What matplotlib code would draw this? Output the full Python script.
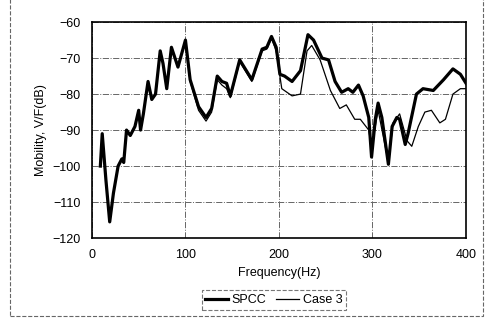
import matplotlib.pyplot as plt
from matplotlib.patches import Rectangle

plt.rcParams['font.family'] = ['Liberation Sans', 'DejaVu Sans']

# SPCC (thick line)
f_spcc = [9, 11, 15, 19, 23, 28, 32, 34, 37, 41, 46, 50, 52, 55, 60, 64, 68, 73, 76, 80,
          85, 92, 100, 105, 114, 122, 128, 134, 139, 144, 148, 158, 171, 182, 187, 192,
          197, 201, 206, 214, 223, 231, 237, 246, 253, 260, 267, 274, 279, 285, 290,
          296, 299, 303, 306, 310, 317, 321, 326, 329, 335, 338, 347, 354, 365, 376,
          386, 394, 400]
db_spcc = [-100, -91, -104, -115.5, -107.5, -100, -98, -99, -90, -91.5, -89, -84.5, -90, -85.5,
           -76.5, -81.5, -80, -68, -71.5, -78.5, -67, -72.5, -65, -76, -83.5, -86.5, -84,
           -75, -76.5, -77, -80.5, -70.5, -76, -67.5, -67, -64, -67, -74.5, -75, -76.5,
           -73.5, -63.5, -65, -70, -70.5, -76.5, -79.5, -78.5, -79.5, -77.5, -80.5, -86.5,
           -97.5, -87, -82.5, -86.5, -99.5, -89, -86.5, -87, -94, -91, -80, -78.5, -79,
           -76, -73, -74.5, -77]

# Case 3 (thin line)
f_case3 = [9, 11, 15, 19, 23, 28, 32, 34, 37, 41, 46, 50, 52, 55, 60, 64, 68, 73, 76, 80,
           85, 92, 100, 105, 114, 122, 128, 134, 139, 144, 148, 158, 171, 182, 187, 192,
           197, 203, 214, 223, 230, 235, 244, 255, 265, 272, 281, 287, 296, 299, 306,
           317, 322, 329, 337, 342, 349, 356, 363, 372, 378, 386, 394, 400]
db_case3 = [-100, -91, -104, -115.5, -107.5, -100, -98, -99, -90, -91.5, -89, -84.5, -90, -85.5,
            -76.5, -81.5, -80, -68, -71.5, -78.5, -67, -72.5, -65, -76.5, -84.5, -87.5, -85,
            -76, -77.5, -78.5, -81, -71, -76.5, -68, -67.5, -64.5, -68, -78.5, -80.5, -80,
            -68, -66.5, -70.5, -79, -84, -83, -87, -87, -90, -95, -84.5, -99, -88, -85.5,
            -93, -94.5, -89, -85, -84.5, -88, -87, -80, -78.5, -78.5]

fig = plt.figure(figsize=(4.89, 3.2), dpi=100)
ax = fig.add_axes([0.188, 0.256, 0.765, 0.675])

ax.plot(f_case3, db_case3, color='black', linewidth=0.9, label='Case 3', zorder=3)
ax.plot(f_spcc, db_spcc, color='black', linewidth=2.3, label='SPCC', zorder=4)

ax.set_xlim(0, 400)
ax.set_ylim(-120, -60)
ax.set_xticks([0, 100, 200, 300, 400])
ax.set_yticks([-120, -110, -100, -90, -80, -70, -60])
ax.tick_params(length=0, labelsize=9, pad=8)
ax.grid(True, linestyle='-.', color='#666666', linewidth=0.7)
for s in ax.spines.values():
    s.set_linewidth(1.2)

ax.set_xlabel('Frequency(Hz)', fontsize=9, labelpad=4)
ax.set_ylabel('Mobility, V/F(dB)', fontsize=9, labelpad=4)

h, l = ax.get_legend_handles_labels()
leg = fig.legend(h[::-1], l[::-1], loc='center', bbox_to_anchor=(0.56, 0.062), ncol=2,
                 fontsize=9, frameon=True, fancybox=False, handlelength=1.8,
                 handletextpad=0.3, columnspacing=0.8, borderpad=0.3, borderaxespad=0)
leg.get_frame().set_edgecolor('#555555')
leg.get_frame().set_linestyle('--')
leg.get_frame().set_linewidth(0.8)

fig.patches.append(Rectangle((0.02, 0.012), 0.968, 1.1, transform=fig.transFigure,
                             fill=False, edgecolor='#666666', linestyle='--', linewidth=0.8))

fig.savefig('out.png', dpi=100)
